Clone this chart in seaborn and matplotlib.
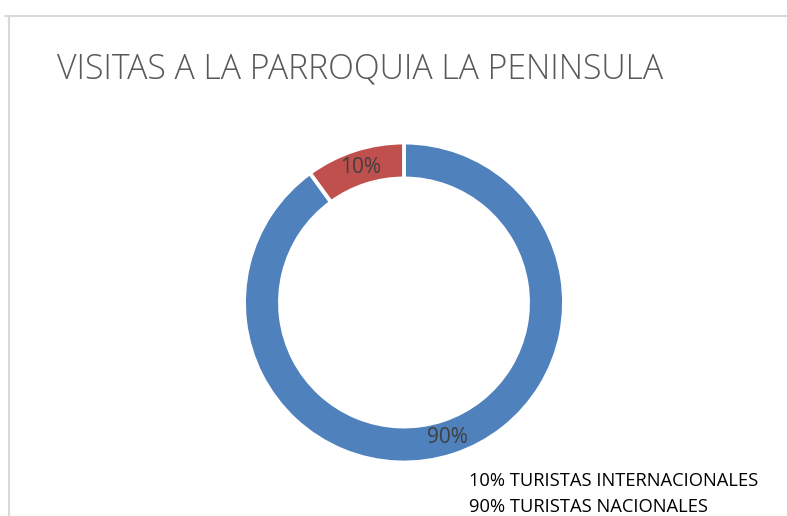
import matplotlib
matplotlib.use("Agg")
import matplotlib.pyplot as plt
from matplotlib.lines import Line2D
import seaborn as sns

# Data
categories = ["TURISTAS NACIONALES", "TURISTAS INTERNACIONALES"]
values = [90, 10]
colors = ["#4F81BD", "#C0504D"]
title = "VISITAS A LA PARROQUIA LA PENINSULA"
legend_lines = ["10% TURISTAS INTERNACIONALES", "90% TURISTAS NACIONALES"]

sns.set_theme(style="white")
plt.rcParams['font.family'] = ['Open Sans', 'DejaVu Sans']

W, H = 787, 516
fig = plt.figure(figsize=(W / 100, H / 100), dpi=100)
fig.patch.set_facecolor("white")

# Frame lines (top and left)
fig.add_artist(Line2D([5 / W, 1.0], [1 - 15.5 / H, 1 - 15.5 / H], color="#D9D9D9", lw=1.5))
fig.add_artist(Line2D([8.5 / W, 8.5 / W], [0, 1 - 15.5 / H], color="#D9D9D9", lw=1.5))

# Donut axes
cx, cy, R = 404, 302.5, 160
half = 175
ax = fig.add_axes([(cx - half) / W, (H - cy - half) / H, 2 * half / W, 2 * half / H])
inner = 124 / R
wedges, texts, autotexts = ax.pie(
    values, colors=sns.color_palette(colors), startangle=90, counterclock=False,
    radius=1.0, autopct="%1.0f%%", pctdistance=(1 + inner) / 2,
    wedgeprops=dict(width=1 - inner, edgecolor="white", linewidth=2.8),
    textprops=dict(color="#404040", fontsize=15),
)
lim = half / R
ax.set_xlim(-lim, lim)
ax.set_ylim(-lim, lim)
ax.set_aspect("equal")
ax.axis("off")

fig.text(57 / W, 1 - 78 / H, title, fontsize=24.3, color="#595959",
         ha="left", va="baseline", fontweight="light")

fig.text(469 / W, 1 - 486 / H, legend_lines[0], fontsize=13.2, color="black",
         ha="left", va="baseline")
fig.text(469 / W, 1 - 512 / H, legend_lines[1], fontsize=13.2, color="black",
         ha="left", va="baseline")

fig.savefig("out.png", dpi=100, facecolor="white")
